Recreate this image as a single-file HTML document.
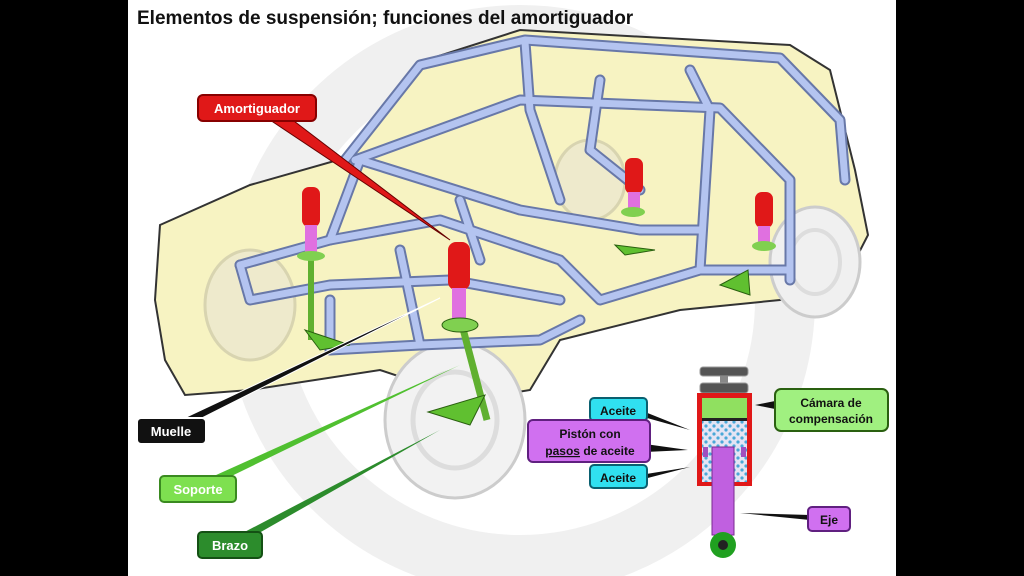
<!DOCTYPE html>
<html><head><meta charset="utf-8"><style>
body{margin:0;width:1024px;height:576px;overflow:hidden;background:#000}
svg{display:block}
text{font-family:"Liberation Sans",sans-serif;font-weight:bold}
</style></head><body>
<svg width="1024" height="576" viewBox="0 0 1024 576">
<defs>
<pattern id="dots" width="8" height="8" patternUnits="userSpaceOnUse"><rect width="8" height="8" fill="#e4e4f4"/><circle cx="2" cy="2" r="1.6" fill="#4aa8d8"/><circle cx="6" cy="6" r="1.6" fill="#4aa8d8"/></pattern>
</defs>
<rect x="128" y="0" width="768" height="576" fill="#fff"/>
<circle cx="520" cy="300" r="265" fill="none" stroke="#f0f0f0" stroke-width="60"/>
<!-- car body -->
<path d="M160,225 L250,185 L345,158 L420,62 L520,30 L790,45 L830,70 L855,170 L868,235 L850,270 L820,290 L780,300 L680,310 L560,340 L530,390 L470,400 L380,370 L250,390 L185,395 L165,360 L155,300 Z" fill="#f7f3c2" stroke="#333" stroke-width="2"/>
<!-- wheels -->
<ellipse cx="815" cy="262" rx="45" ry="55" fill="#f0f0f0" stroke="#ccc" stroke-width="3"/>
<ellipse cx="815" cy="262" rx="25" ry="32" fill="none" stroke="#ddd" stroke-width="4"/>
<ellipse cx="455" cy="420" rx="70" ry="78" fill="#f2f2f2" stroke="#ccc" stroke-width="3"/>
<ellipse cx="455" cy="420" rx="42" ry="48" fill="none" stroke="#ddd" stroke-width="5"/>
<ellipse cx="250" cy="305" rx="45" ry="55" fill="#eeeacc" stroke="#d8d4b0" stroke-width="3"/>
<ellipse cx="590" cy="180" rx="35" ry="40" fill="#eeeacc" stroke="#d8d4b0" stroke-width="3"/>
<!-- frame -->
<g fill="none" stroke-linejoin="round" stroke-linecap="round">
<g stroke="#6878a8" stroke-width="11">
<path d="M345,160 L420,65 L525,40 L780,58 L840,120 L845,180"/>
<path d="M355,160 L520,100 L720,108 L790,180 L790,280"/>
<path d="M525,42 L530,110 L560,200"/>
<path d="M690,70 L710,110 L700,270"/>
<path d="M600,80 L590,150 L640,190"/>
<path d="M240,265 L330,240 L440,220 L560,260 L600,300 L700,270 L790,270"/>
<path d="M240,265 L250,300 L330,285 L450,280 L560,300"/>
<path d="M330,240 L360,160 L520,210 L640,230 L700,230"/>
<path d="M330,300 L330,350 L420,345 L540,340 L580,320"/>
<path d="M400,250 L420,345"/>
<path d="M460,200 L480,260"/>
</g>
<g stroke="#b4c4f0" stroke-width="7">
<path d="M345,160 L420,65 L525,40 L780,58 L840,120 L845,180"/>
<path d="M355,160 L520,100 L720,108 L790,180 L790,280"/>
<path d="M525,42 L530,110 L560,200"/>
<path d="M690,70 L710,110 L700,270"/>
<path d="M600,80 L590,150 L640,190"/>
<path d="M240,265 L330,240 L440,220 L560,260 L600,300 L700,270 L790,270"/>
<path d="M240,265 L250,300 L330,285 L450,280 L560,300"/>
<path d="M330,240 L360,160 L520,210 L640,230 L700,230"/>
<path d="M330,300 L330,350 L420,345 L540,340 L580,320"/>
<path d="M400,250 L420,345"/>
<path d="M460,200 L480,260"/>
</g>
</g>
<!-- shocks -->
<g>
<rect x="302" y="187" width="18" height="40" rx="7" fill="#e01818"/>
<rect x="305" y="225" width="12" height="30" fill="#e070e0"/>
<line x1="311" y1="255" x2="311" y2="340" stroke="#60b030" stroke-width="6"/>
<ellipse cx="311" cy="256" rx="14" ry="5" fill="#80d050"/>
<path d="M305,330 L350,345 L320,350 Z" fill="#60c030" stroke="#2a6010"/>
<rect x="448" y="242" width="22" height="48" rx="8" fill="#e01818"/>
<rect x="452" y="288" width="14" height="35" fill="#e070e0"/>
<line x1="462" y1="325" x2="487" y2="420" stroke="#60b030" stroke-width="7"/>
<ellipse cx="460" cy="325" rx="18" ry="7" fill="#80d050" stroke="#2a6010"/>
<path d="M428,412 L485,395 L470,425 Z" fill="#60c030" stroke="#2a6010"/>
<rect x="625" y="158" width="18" height="36" rx="7" fill="#e01818"/>
<rect x="628" y="192" width="12" height="20" fill="#e070e0"/>
<ellipse cx="633" cy="212" rx="12" ry="5" fill="#80d050"/>
<path d="M615,245 L655,250 L625,255 Z" fill="#60c030" stroke="#2a6010"/>
<rect x="755" y="192" width="18" height="36" rx="7" fill="#e01818"/>
<rect x="758" y="226" width="12" height="20" fill="#e070e0"/>
<ellipse cx="764" cy="246" rx="12" ry="5" fill="#80d050"/>
<path d="M720,285 L748,270 L750,295 Z" fill="#60c030" stroke="#2a6010"/>
</g>
<!-- callout pointers -->
<path d="M270,120 L450,240 L290,118 Z" fill="#e01818" stroke="#600" stroke-width="1"/>
<path d="M180,420 L440,298 L190,424 Z" fill="#111" stroke="#fff"/>
<path d="M205,480 L460,365 L215,484 Z" fill="#50c030"/>
<path d="M235,537 L440,430 L245,541 Z" fill="#2c8c2c"/>
<!-- labels -->
<text x="137" y="24" font-size="19" fill="#111">Elementos de suspensión; funciones del amortiguador</text>
<rect x="198" y="95" width="118" height="26" rx="5" fill="#e01818" stroke="#800" stroke-width="2"/>
<text x="257" y="113" font-size="13" fill="#fff" text-anchor="middle">Amortiguador</text>
<rect x="137" y="418" width="69" height="26" rx="4" fill="#111" stroke="#fff" stroke-width="2"/>
<text x="171" y="436" font-size="13" fill="#fff" text-anchor="middle">Muelle</text>
<rect x="160" y="476" width="76" height="26" rx="4" fill="#7ee050" stroke="#3a8a20" stroke-width="2"/>
<text x="198" y="494" font-size="13" fill="#fff" text-anchor="middle">Soporte</text>
<rect x="198" y="532" width="64" height="26" rx="4" fill="#2c8c2c" stroke="#145014" stroke-width="2"/>
<text x="230" y="550" font-size="13" fill="#fff" text-anchor="middle">Brazo</text>
<!-- shock diagram -->
<rect x="700" y="367" width="48" height="9" rx="3" fill="#555" stroke="#999"/>
<rect x="720" y="376" width="8" height="8" fill="#888"/>
<rect x="700" y="383" width="48" height="10" rx="3" fill="#555" stroke="#999"/>
<rect x="697" y="393" width="55" height="93" fill="#e01818"/>
<rect x="702" y="398" width="45" height="20" fill="#90e060"/>
<rect x="702" y="418" width="45" height="3" fill="#222"/>
<rect x="702" y="421" width="45" height="61" fill="url(#dots)"/>
<rect x="703" y="447" width="5" height="10" fill="#a050c0"/>
<rect x="741" y="447" width="5" height="10" fill="#a050c0"/>
<rect x="712" y="447" width="22" height="88" fill="#c060e0" stroke="#7a2a90"/>
<circle cx="723" cy="545" r="13" fill="#20a020"/>
<circle cx="723" cy="545" r="5" fill="#222"/>
<path d="M640,410 L690,430 L640,416 Z" fill="#111"/>
<path d="M645,444 L688,450 L645,452 Z" fill="#111"/>
<path d="M640,475 L690,467 L640,480 Z" fill="#111"/>
<path d="M780,400 L755,405 L780,410 Z" fill="#111"/>
<path d="M810,515 L740,513 L810,520 Z" fill="#111"/>
<rect x="590" y="398" width="57" height="23" rx="4" fill="#30e0f0" stroke="#0a6070" stroke-width="2"/>
<text x="618" y="415" font-size="12" fill="#111" text-anchor="middle">Aceite</text>
<rect x="528" y="420" width="122" height="42" rx="5" fill="#d070f0" stroke="#602080" stroke-width="2"/>
<text x="590" y="438" font-size="12" fill="#111" text-anchor="middle">Pistón con</text>
<text x="590" y="455" font-size="12" fill="#111" text-anchor="middle"><tspan text-decoration="underline">pasos</tspan> de aceite</text>
<rect x="590" y="465" width="57" height="23" rx="4" fill="#30e0f0" stroke="#0a6070" stroke-width="2"/>
<text x="618" y="482" font-size="12" fill="#111" text-anchor="middle">Aceite</text>
<rect x="775" y="389" width="113" height="42" rx="6" fill="#a0f080" stroke="#2a6010" stroke-width="2"/>
<text x="831" y="407" font-size="12" fill="#111" text-anchor="middle">Cámara de</text>
<text x="831" y="423" font-size="12" fill="#111" text-anchor="middle">compensación</text>
<rect x="808" y="507" width="42" height="24" rx="4" fill="#d070f0" stroke="#602080" stroke-width="2"/>
<text x="829" y="524" font-size="12" fill="#111" text-anchor="middle">Eje</text>
</svg>
</body></html>
